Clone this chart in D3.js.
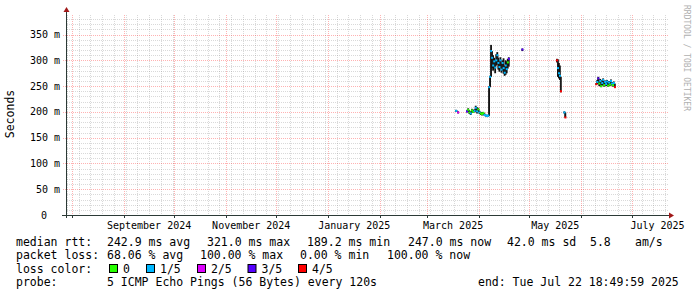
<!DOCTYPE html>
<html>
<head>
<meta charset="utf-8">
<script src="https://cdn.jsdelivr.net/npm/d3@7"></script>
<style>
  body { margin: 0; background: #fff; }
  text { font-family: "DejaVu Sans Mono", monospace; fill: #000; }
</style>
</head>
<body>
<div id="chart"></div>
<script>
// one entry per consolidated sample (rrd step), medians and smoke in ms
const sampleTimes = [
  "2025-03-18T00", "2025-03-19T06",
  "2025-03-24T12", "2025-03-25T06", "2025-03-26T00", "2025-03-26T18", "2025-03-27T12", "2025-03-28T06",
  "2025-03-29T00", "2025-03-29T18", "2025-03-30T12", "2025-03-31T06", "2025-04-01T00", "2025-04-01T18",
  "2025-04-02T12", "2025-04-03T06", "2025-04-04T00", "2025-04-04T18", "2025-04-05T12", "2025-04-06T06",
  "2025-04-06T18", "2025-04-07T08", "2025-04-07T22", "2025-04-08T12", "2025-04-09T03", "2025-04-09T18",
  "2025-04-10T09", "2025-04-11T00", "2025-04-11T15", "2025-04-12T06", "2025-04-12T21", "2025-04-13T12",
  "2025-04-14T03", "2025-04-14T18", "2025-04-15T09", "2025-04-16T00", "2025-04-16T15", "2025-04-17T06",
  "2025-04-17T21", "2025-04-18T12",
  "2025-04-26T14",
  "2025-05-17T06", "2025-05-17T20", "2025-05-18T10", "2025-05-19T00", "2025-05-19T14",
  "2025-05-21T16", "2025-05-22T06",
  "2025-06-09T18", "2025-06-10T08", "2025-06-10T22", "2025-06-11T12", "2025-06-12T02", "2025-06-12T16",
  "2025-06-13T06", "2025-06-13T20", "2025-06-14T10", "2025-06-15T00", "2025-06-15T14", "2025-06-16T04",
  "2025-06-16T18", "2025-06-17T08", "2025-06-17T22", "2025-06-18T12", "2025-06-19T02", "2025-06-19T16",
  "2025-06-20T06", "2025-06-20T20"
];
const medianMs = [
  202, 199,
  201, 204, 199, 197, 203, 200, 202, 208, 201, 205, 199, 197, 196, 198, 194, 193, 192, 193,
  248, 268, 318, 305, 290, 298, 286, 300, 310, 295, 287, 300, 282, 295, 285, 276, 290, 283, 296, 303,
  321,
  300, 285, 275, 270, 240,
  199, 189.2,
  254, 258, 265, 255, 260, 250, 256, 262, 252, 258, 254, 259, 251, 257, 253, 260, 255, 252, 256, 248
];
const smokeLowMs = [
  200, 197,
  199, 200, 196, 194, 199, 198, 199, 200, 197, 200, 196, 194, 193, 195, 192, 191, 190, 191,
  192, 248, 268, 285, 280, 284, 275, 290, 292, 282, 278, 285, 276, 280, 274, 270, 272, 275, 284, 288,
  318,
  296, 268, 265, 262, 238,
  197, 189,
  252, 254, 256, 250, 254, 248, 251, 255, 249, 252, 250, 253, 249, 252, 250, 254, 251, 249, 252, 247
];
const smokeHighMs = [
  204, 201,
  203, 207, 203, 201, 206, 204, 205, 212, 209, 208, 202, 200, 199, 200, 197, 195, 194, 195,
  250, 270, 330, 318, 310, 305, 300, 312, 316, 305, 298, 306, 296, 300, 304, 290, 300, 298, 303, 306,
  323,
  303, 302, 295, 290, 268,
  201, 199,
  256, 262, 268, 260, 264, 258, 262, 265, 258, 261, 260, 262, 256, 260, 258, 263, 258, 256, 259, 255
];
const lossCount = [
  1, 2,
  3, 0, 0, 1, 0, 0, 1, 1, 1, 0, 1, 0, 0, 0, 1, 1, 1, 1,
  1, 1, 1, 1, 1, 1, 1, 1, 1, 1, 1, 1, 1, 1, 1, 1, 1, 1, 0, 3,
  3,
  4, 1, 1, 1, 4,
  1, 4,
  4, 1, 3, 0, 1, 0, 1, 1, 0, 1, 1, 1, 0, 1, 0, 1, 1, 0, 1, 4
];

const lossColors = ["#26ff00", "#00b8ff", "#dd00ff", "#5500ff", "#ff0000"];
const lossLabels = ["0", "1/5", "2/5", "3/5", "4/5"];

const yTicks = [0, 50, 100, 150, 200, 250, 300, 350];
const labelMonths = ["2024-09", "2024-11", "2025-01", "2025-03", "2025-05", "2025-07"];

const rttStats = ["242.9 ms avg", "321.0 ms max", "189.2 ms min", "247.0 ms now", "42.0 ms sd", "5.8", "am/s"];
const lossStats = ["68.06 % avg", "100.00 % max", "0.00 % min", "100.00 % now"];
const probeText = "5 ICMP Echo Pings (56 Bytes) every 120s";
const endText = "end: Tue Jul 22 18:49:59 2025";

const parseT = d3.timeParse("%Y-%m-%dT%H");
const startTime = parseT("2024-07-29T00");
const endTime = d3.timeParse("%Y-%m-%dT%H:%M:%S")("2025-07-22T18:49:59");

const W = 697, H = 297;
const plotL = 67, plotR = 668, plotT = 15, plotB = 215;

const svg = d3.select("#chart").append("svg")
  .attr("width", W).attr("height", H)
  .style("display", "block");

svg.append("rect").attr("width", W).attr("height", H).attr("fill", "#fff");

const x = d3.scaleTime().domain([startTime, endTime]).range([plotL, plotR]);
const y = d3.scaleLinear().domain([0, 388]).range([plotB, plotT]);
const px = v => Math.round(v) + 0.5;

// grid
const grid = svg.append("g");
const minorColor = "rgba(128,128,128,0.3)", majorColor = "rgba(255,0,0,0.3)";
const minorY = y.ticks(40).filter(v => v % 50 !== 0);
grid.selectAll(".hmin").data(minorY).enter().append("line")
  .attr("x1", plotL).attr("x2", plotR)
  .attr("y1", d => px(y(d))).attr("y2", d => px(y(d)))
  .attr("stroke", minorColor).attr("stroke-dasharray", "1,1");

const mondays = d3.timeMonday.range(startTime, endTime);
const months = d3.timeMonth.range(d3.timeDay.offset(startTime, 1), endTime);
grid.selectAll(".vmin").data(mondays).enter().append("line")
  .attr("y1", plotT).attr("y2", plotB)
  .attr("x1", d => px(x(d))).attr("x2", d => px(x(d)))
  .attr("stroke", minorColor).attr("stroke-dasharray", "1,1");

grid.selectAll(".hmaj").data(yTicks.filter(v => v > 0)).enter().append("line")
  .attr("x1", plotL - 4).attr("x2", plotR)
  .attr("y1", d => px(y(d))).attr("y2", d => px(y(d)))
  .attr("stroke", majorColor).attr("stroke-dasharray", "1,1");
grid.selectAll(".vmaj").data(months).enter().append("line")
  .attr("y1", plotT).attr("y2", plotB + 3)
  .attr("x1", d => px(x(d))).attr("x2", d => px(x(d)))
  .attr("stroke", majorColor).attr("stroke-dasharray", "1,1");

// data
const samples = sampleTimes.map((t, i) => ({
  t: parseT(t), med: medianMs[i], lo: smokeLowMs[i], hi: smokeHighMs[i], loss: lossCount[i]
}));
const runs = [];
samples.forEach((s, i) => {
  if (i === 0 || (s.t - samples[i - 1].t) > 30 * 3600e3) runs.push([]);
  runs[runs.length - 1].push(s);
});

const plot = svg.append("g");
// smoke: spread of the pings
plot.selectAll(".smoke").data(samples).enter().append("rect")
  .attr("x", d => x(d.t) - 0.5)
  .attr("width", 1.8)
  .attr("y", d => y(d.hi))
  .attr("height", d => Math.max(1, y(d.lo) - y(d.hi)))
  .attr("fill", "#111");

// thin connectors between medians
runs.forEach(run => {
  plot.append("path")
    .attr("d", d3.line().x(d => x(d.t)).y(d => y(d.med)).curve(d3.curveStepAfter)(run))
    .attr("fill", "none").attr("stroke", "#222").attr("stroke-width", 0.8);
});

// median ticks coloured by loss
plot.selectAll(".med").data(samples).enter().append("rect")
  .attr("x", d => x(d.t) - 0.5)
  .attr("y", d => y(d.med) - 1)
  .attr("width", 2)
  .attr("height", 2)
  .attr("fill", d => lossColors[d.loss]);

// axes
const axisColor = "#2c3a36", arrowColor = "#a01818";
svg.append("line").attr("x1", 62).attr("x2", 669)
  .attr("y1", plotB + 0.5).attr("y2", plotB + 0.5).attr("stroke", axisColor);
svg.append("line").attr("x1", plotL - 0.5).attr("x2", plotL - 0.5)
  .attr("y1", plotB + 3).attr("y2", 11).attr("stroke", axisColor);
svg.append("path").attr("d", `M669,${plotB - 2.5}L674,${plotB + 0.5}L669,${plotB + 3.5}Z`).attr("fill", arrowColor);
svg.append("path").attr("d", `M${plotL - 3.5},12L${plotL - 0.5},7L${plotL + 2.5},12Z`).attr("fill", arrowColor);

// month ticks on the axis
svg.selectAll(".xt").data(months).enter().append("line")
  .attr("x1", d => px(x(d))).attr("x2", d => px(x(d)))
  .attr("y1", plotB).attr("y2", plotB + 3).attr("stroke", axisColor);

// y tick labels
svg.selectAll(".yl").data(yTicks).enter().append("text")
  .attr("x", d => d === 0 ? 47 : 60)
  .attr("y", d => y(d) + 3.5)
  .attr("text-anchor", "end")
  .style("font-size", "10px")
  .text(d => d === 0 ? "0" : `${d} m`);

// x labels centred in their month
const parseM = d3.timeParse("%Y-%m");
svg.selectAll(".xl").data(labelMonths.map(parseM)).enter().append("text")
  .attr("x", d => (x(d) + x(d3.timeMonth.offset(d, 1))) / 2)
  .attr("y", 229)
  .attr("text-anchor", "middle")
  .style("font-size", "10px")
  .text(d3.timeFormat("%B %Y"));

svg.append("text")
  .attr("transform", "translate(14,114) rotate(-90)")
  .attr("text-anchor", "middle")
  .style("font-size", "11.5px")
  .text("Seconds");

svg.append("text")
  .attr("transform", "translate(684,5) rotate(90)")
  .style("font-size", "8px")
  .style("fill", "#b0b0b0")
  .text("RRDTOOL / TOBI OETIKER");

// legend
const fs = "11.5px";
const rttX = [107, 207, 307, 408, 507, 590, 635];
const lossX = [107, 200, 300, 387];
const legend = svg.append("g").style("font-size", fs);
legend.append("text").attr("x", 16).attr("y", 245.5).text("median rtt:");
rttStats.forEach((s, i) => legend.append("text").attr("x", rttX[i]).attr("y", 245.5).text(s));
legend.append("text").attr("x", 16).attr("y", 259).text("packet loss:");
lossStats.forEach((s, i) => legend.append("text").attr("x", lossX[i]).attr("y", 259).text(s));
legend.append("text").attr("x", 16).attr("y", 272.5).text("loss color:");
const swX = [109, 146, 197, 247.5, 298];
lossLabels.forEach((l, i) => {
  legend.append("rect").attr("x", swX[i] + 0.5).attr("y", 264.5).attr("width", 8).attr("height", 8)
    .attr("fill", lossColors[i]).attr("stroke", "#000");
  legend.append("text").attr("x", swX[i] + 14).attr("y", 272.5).text(l);
});
legend.append("text").attr("x", 16).attr("y", 286).text("probe:");
legend.append("text").attr("x", 107).attr("y", 286).text(probeText);
legend.append("text").attr("x", 478).attr("y", 286).text(endText);
</script>
</body>
</html>
